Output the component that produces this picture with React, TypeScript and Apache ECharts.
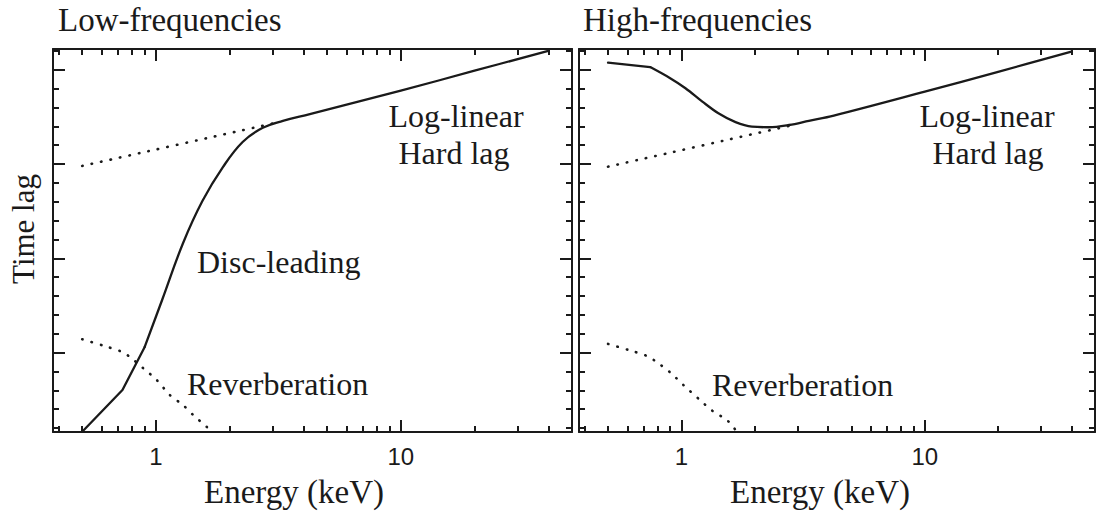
import React, { useEffect, useRef } from "react";
import * as echarts from "echarts";

// ---- axis ranges & ticks ----
const energyMin = 0.38;
const energyMax = 50;
const majorEnergyTicks = [1, 10];
const minorEnergyTicks = [0.4, 0.5, 0.6, 0.7, 0.8, 0.9, 2, 3, 4, 5, 6, 7, 8, 9, 20, 30, 40];
const lagMin = 0.79;
const lagMax = 21.1;
const majorLagTicks = [5, 10, 15, 20];
const minorLagTicks = [1, 2, 3, 4, 5, 6, 7, 8, 9, 10, 11, 12, 13, 14, 15, 16, 17, 18, 19, 20, 21];

// ---- Low-frequencies panel ----
// low-energy straight part of the total lag
const lowKinkE = [0.5, 0.73, 0.9];
const lowKinkLag = [0.8, 3.02, 5.3];
// smooth rise and log-linear part of the total lag
const lowSolidE = [0.9, 1.06, 1.29, 1.55, 1.88, 2.26, 2.73, 3.3, 4.25, 10, 20, 40];
const lowSolidLag = [5.3, 7.79, 10.8, 13.05, 14.85, 16.17, 16.92, 17.29, 17.65, 18.89, 19.95, 21.0];
const lowHardE = [0.5, 3.0];
const lowHardLag = [14.9, 17.15];
const lowReverbE = [0.5, 0.609, 0.724, 0.783, 0.888, 1.007, 1.14, 1.29, 1.42, 1.61, 1.7];
const lowReverbLag = [5.71, 5.37, 5.05, 4.77, 4.17, 3.55, 2.75, 2.22, 1.69, 1.07, 0.8];

// ---- High-frequencies panel ----
const highKinkE = [0.5, 0.745];
const highKinkLag = [20.38, 20.14];
const highSolidE = [0.745, 0.9, 1.04, 1.22, 1.42, 1.67, 1.95, 2.29, 2.77, 3.34, 4.23, 10, 20, 40];
const highSolidLag = [20.14, 19.55, 19.02, 18.31, 17.69, 17.22, 16.98, 16.95, 17.07, 17.29, 17.57, 18.84, 19.89, 20.96];
const highHardE = [0.5, 2.77];
const highHardLag = [14.86, 17.02];
const highReverbE = [0.5, 0.607, 0.723, 0.782, 0.9, 1.02, 1.18, 1.34, 1.54, 1.65, 1.7];
const highReverbLag = [5.46, 5.14, 4.82, 4.55, 3.95, 3.28, 2.54, 1.92, 1.42, 0.98, 0.8];

const INK = "#1a1a1a";
const SERIF = '"Liberation Serif", "Times New Roman", serif';

const lg = (v: number) => Math.log10(v);
const zip = (xs: number[], ys: number[]) => xs.map((x, i) => [lg(x), ys[i]]);

function xAxesFor(grid: number) {
  const base: any = {
    type: "value",
    gridIndex: grid,
    min: lg(energyMin),
    max: lg(energyMax),
    splitLine: { show: false },
  };
  const mk = (position: string, major: boolean, label: boolean) => ({
    ...base,
    position,
    axisLine: { show: major, onZero: false, lineStyle: { color: INK, width: 2 } },
    axisTick: {
      show: true,
      inside: true,
      length: major ? 12 : 6,
      lineStyle: { color: INK, width: 2 },
      customValues: (major ? majorEnergyTicks : minorEnergyTicks).map(lg),
    },
    axisLabel: label
      ? {
          show: true,
          customValues: majorEnergyTicks.map(lg),
          formatter: (v: number) => String(Math.round(Math.pow(10, v))),
          fontFamily: '"Liberation Sans", Arial, sans-serif',
          fontSize: 24,
          color: INK,
          margin: 12,
        }
      : { show: false },
  });
  return [mk("bottom", true, true), mk("bottom", false, false), mk("top", true, false), mk("top", false, false)];
}

function yAxesFor(grid: number) {
  const base: any = {
    type: "value",
    gridIndex: grid,
    min: lagMin,
    max: lagMax,
    splitLine: { show: false },
    axisLabel: { show: false },
  };
  const mk = (position: string, major: boolean) => ({
    ...base,
    position,
    axisLine: { show: major, onZero: false, lineStyle: { color: INK, width: 2 } },
    axisTick: {
      show: true,
      inside: true,
      length: major ? 12 : 6,
      lineStyle: { color: INK, width: 2 },
      customValues: major ? majorLagTicks : minorLagTicks,
    },
  });
  return [mk("left", true), mk("left", false), mk("right", true), mk("right", false)];
}

function solid(grid: number, e: number[], l: number[], name: string, smooth: number | boolean) {
  return {
    type: "line",
    name,
    xAxisIndex: grid * 4,
    yAxisIndex: grid * 4,
    data: zip(e, l),
    symbol: "none",
    showSymbol: false,
    smooth,
    lineStyle: { color: INK, width: 2.3, cap: "round", join: "round" },
    z: 3,
  };
}

function dotted(grid: number, e: number[], l: number[], name: string) {
  return {
    type: "line",
    name,
    xAxisIndex: grid * 4,
    yAxisIndex: grid * 4,
    data: zip(e, l),
    symbol: "none",
    showSymbol: false,
    smooth: 0.3,
    lineStyle: { color: INK, width: 2.6, type: [0.5, 9.2], cap: "round" },
    z: 2,
  };
}

function txt(text: string, x: number, y: number, size: number, align = "left", rotation = 0) {
  return {
    type: "text",
    x,
    y,
    rotation,
    style: {
      text,
      font: `${size}px ${SERIF}`,
      fill: INK,
      align,
      textAlign: align,
      verticalAlign: "middle",
      textVerticalAlign: "middle",
    },
  };
}

export default function App() {
  const ref = useRef<HTMLDivElement>(null);
  useEffect(() => {
    if (!ref.current) return;
    const chart = echarts.init(ref.current, null, { renderer: "svg" });
    chart.setOption({
      animation: false,
      backgroundColor: "#ffffff",
      grid: [
        { left: 53, top: 49, width: 519, height: 383, outerBoundsMode: "none", containLabel: false },
        { left: 579, top: 49, width: 516, height: 383, outerBoundsMode: "none", containLabel: false },
      ],
      xAxis: [...xAxesFor(0), ...xAxesFor(1)],
      yAxis: [...yAxesFor(0), ...yAxesFor(1)],
      series: [
        dotted(0, lowHardE, lowHardLag, "Low log-linear"),
        dotted(0, lowReverbE, lowReverbLag, "Low reverberation"),
        solid(0, lowKinkE, lowKinkLag, "Low total (soft)", false),
        solid(0, lowSolidE, lowSolidLag, "Low total", 0.4),
        dotted(1, highHardE, highHardLag, "High log-linear"),
        dotted(1, highReverbE, highReverbLag, "High reverberation"),
        solid(1, highKinkE, highKinkLag, "High total (soft)", false),
        solid(1, highSolidE, highSolidLag, "High total", 0.35),
      ],
      graphic: [
        txt("Low-frequencies", 58, 20, 33),
        txt("High-frequencies", 583, 20, 33),
        txt("Time lag", 23, 229, 31, "center", Math.PI / 2),
        txt("Energy (keV)", 294, 492, 33, "center"),
        txt("Energy (keV)", 820, 492, 33, "center"),
        txt("Log-linear", 456, 116, 32, "center"),
        txt("Hard lag", 454, 153, 32, "center"),
        txt("Log-linear", 987, 116, 32, "center"),
        txt("Hard lag", 988, 153, 32, "center"),
        txt("Disc-leading", 197, 262, 32),
        txt("Reverberation", 187, 384, 32),
        txt("Reverberation", 712, 385, 32),
      ],
    });
    return () => chart.dispose();
  }, []);
  return (
    <div
      ref={ref}
      style={{ position: "fixed", left: 0, top: 0, width: 1096, height: 514, background: "#fff" }}
    />
  );
}
